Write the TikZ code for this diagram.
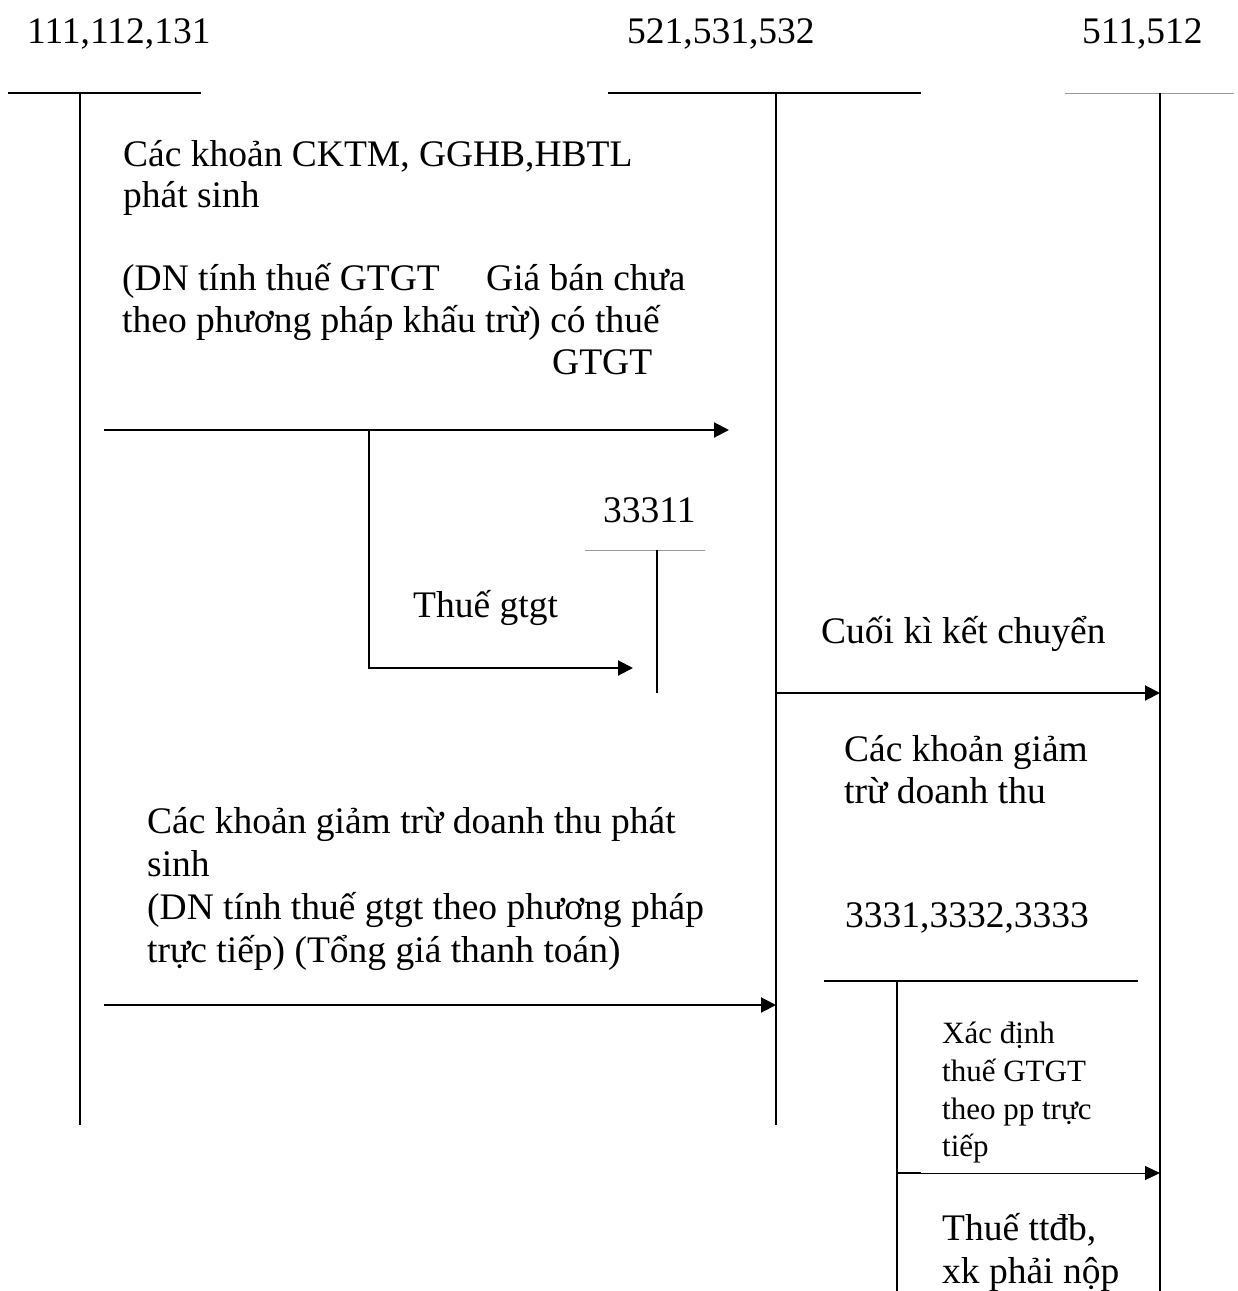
\documentclass[tikz,border=0pt]{standalone}
\usepackage{fontspec}
\setmainfont{Liberation Serif}
\usetikzlibrary{arrows.meta}
\begin{document}
\begin{tikzpicture}[x=1pt,y=-1pt,
  lbl/.style={anchor=base west, inner sep=0pt, font=\fontsize{37.5}{45}\selectfont},
  small/.style={anchor=base west, inner sep=0pt, font=\fontsize{31}{37}\selectfont},
  acct/.style={line width=2pt},
  faintrule/.style={line width=1pt, draw=black!40},
  flow/.style={line width=2pt, -{Triangle[length=15pt,width=15pt]}},
  thinflow/.style={line width=1pt, -{Triangle[length=15pt,width=14pt]}},
]
\useasboundingbox (0,0) rectangle (1238,1291);

% ---- T-account frames ----
% 111,112,131
\coordinate (A-l) at (8,93);    \coordinate (A-r) at (201,93);
\coordinate (A-t) at (80,93);   \coordinate (A-b) at (80,1125);
% 521,531,532
\coordinate (B-l) at (608,93);  \coordinate (B-r) at (921,93);
\coordinate (B-t) at (776,93);  \coordinate (B-b) at (776,1125);
% 511,512
\coordinate (C-l) at (1065,93); \coordinate (C-r) at (1234,93);
\coordinate (C-t) at (1160,93); \coordinate (C-b) at (1160,1291);
% 33311
\coordinate (D-l) at (585,550); \coordinate (D-r) at (705,550);
\coordinate (D-t) at (657,550); \coordinate (D-b) at (657,693);
% 3331,3332,3333
\coordinate (E-l) at (824,981); \coordinate (E-r) at (1138,981);
\coordinate (E-t) at (897,981); \coordinate (E-b) at (897,1291);

\draw[acct] (A-l) -- (A-r);  \draw[acct] (A-t) -- (A-b);
\draw[acct] (B-l) -- (B-r);  \draw[acct] (B-t) -- (B-b);
\draw[faintrule] (C-l) -- (C-r);  \draw[acct] (C-t) -- (C-b);
\draw[faintrule] (D-l) -- (D-r);  \draw[acct] (D-t) -- (D-b);
\draw[acct] (E-l) -- (E-r);  \draw[acct] (E-t) -- (E-b);

% ---- account headings ----
\node[lbl] (hA) at (27,43)   {111,112,131};
\node[lbl] (hB) at (627,43)  {521,531,532};
\node[lbl] (hC) at (1082,43) {511,512};
\node[lbl] (hD) at (603,522) {33311};
\node[lbl] (hE) at (845,927) {3331,3332,3333};

% ---- flow endpoints ----
\coordinate (f1s) at (104,430);  \coordinate (f1e) at (729,430);
\coordinate (f2s) at (369,430);  \coordinate (f2k) at (369,668);
\coordinate (f2e) at (633,668);
\coordinate (f3s) at (776,693);  \coordinate (f3e) at (1160,693);
\coordinate (f4s) at (104,1005); \coordinate (f4e) at (776,1005);
\coordinate (f5s) at (897,1173); \coordinate (f5k) at (921,1173);
\coordinate (f5e) at (1160,1173);

\draw[flow] (f1s) -- (f1e);
\draw[flow] (f2s) -- (f2k) -- (f2e);
\draw[flow] (f3s) -- (f3e);
\draw[flow] (f4s) -- (f4e);
\draw[thinflow] (f5s) -- (f5e);
\draw[acct] (f5s) -- (f5k);

% ---- labels ----
\node[lbl] (t1a) at (123,166) {Các khoản CKTM, GGHB,HBTL};
\node[lbl] (t1b) at (123,207) {phát sinh};
\node[lbl] (t1c) at (122,290) {(DN tính thuế GTGT};
\node[lbl] (t1d) at (486,290) {Giá bán chưa};
\node[lbl] (t1e) at (122,332) {theo phương pháp khấu trừ) có thuế};
\node[lbl] (t1f) at (552,374) {GTGT};

\node[lbl] (t2) at (413,617) {Thuế gtgt};
\node[lbl] (t3) at (821,643) {Cuối kì kết chuyển};

\node[lbl] (t4a) at (844,761) {Các khoản giảm};
\node[lbl] (t4b) at (844,803) {trừ doanh thu};

\node[lbl] (t5a) at (147,833) {Các khoản giảm trừ doanh thu phát};
\node[lbl] (t5b) at (147,876) {sinh};
\node[lbl] (t5c) at (147,919) {(DN tính thuế gtgt theo phương pháp};
\node[lbl] (t5d) at (147,962) {trực tiếp) (Tổng giá thanh toán)};

\node[small] (t6a) at (942,1043) {Xác định};
\node[small] (t6b) at (942,1081) {thuế GTGT};
\node[small] (t6c) at (942,1119) {theo pp trực};
\node[small] (t6d) at (942,1156) {tiếp};

\node[lbl] (t7a) at (942,1240) {Thuế ttđb,};
\node[lbl] (t7b) at (942,1283) {xk phải nộp};
\end{tikzpicture}
\end{document}
